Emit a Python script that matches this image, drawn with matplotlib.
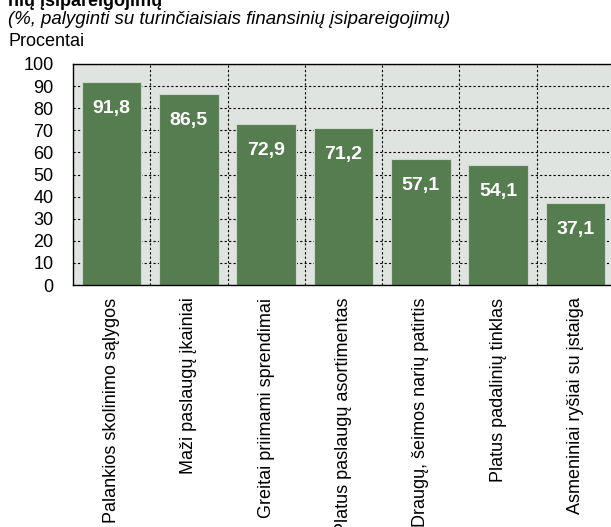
import matplotlib
matplotlib.use('Agg')
import matplotlib.pyplot as plt
import numpy as np

plt.rcParams['font.family'] = ['Liberation Sans', 'DejaVu Sans']

kategorijos = ['Palankios skolinimo sąlygos', 'Maži paslaugų įkainiai',
               'Greitai priimami sprendimai', 'Platus paslaugų asortimentas',
               'Draugų, šeimos narių patirtis', 'Platus padalinių tinklas',
               'Asmeniniai ryšiai su įstaiga']
reiksmes = [91.8, 86.5, 72.9, 71.2, 57.1, 54.1, 37.1]
y_ticks = [0, 10, 20, 30, 40, 50, 60, 70, 80, 90, 100]

W, H = 611, 527
fig = plt.figure(figsize=(W / 100, H / 100), dpi=100)
# axes in pixels: left 73, right 614, top 64, bottom 285
ax = fig.add_axes([73 / W, 1 - 285 / H, 541 / W, 221 / H])
ax.set_facecolor('#e0e4e0')

x = np.arange(len(reiksmes))
ax.bar(x, reiksmes, width=0.77, color='#567d4f', edgecolor='#cfd8cf',
       linewidth=0.8, zorder=3)

for xi, v in zip(x, reiksmes):
    ax.text(xi, v - 12, f'{v:.1f}'.replace('.', ','), ha='center', va='center',
            color='white', fontsize=14, fontweight='bold', zorder=4)

ax.set_xlim(-0.5, len(reiksmes) - 0.5)
ax.set_ylim(0, 100)
ax.set_yticks(y_ticks)
ax.set_yticklabels([str(t) for t in y_ticks], fontsize=13)
ax.tick_params(axis='y', length=0, pad=14)
ax.set_xticks(x)
ax.set_xticklabels(kategorijos, rotation=90, fontsize=13)
ax.tick_params(axis='x', length=0, pad=9)
ax.set_xticks(x[:-1] + 0.5, minor=True)
ax.tick_params(axis='x', which='minor', length=0)

ax.grid(True, axis='y', color='black', linestyle=(0, (2, 2)), linewidth=0.8, zorder=1)
ax.grid(True, axis='x', which='minor', color='black', linestyle=(0, (2, 2)),
        linewidth=0.8, zorder=1)
ax.grid(False, axis='x', which='major')
for s in ax.spines.values():
    s.set_linewidth(1.0)
    s.set_zorder(5)

fig.text(8 / W, 1 - 1 / H, 'nių įsipareigojimų', fontsize=13, fontweight='bold',
         ha='left', va='center')
fig.text(8 / W, 1 - 19 / H, '(%, palyginti su turinčiaisiais finansinių įsipareigojimų)',
         fontsize=13.4, style='italic', ha='left', va='center')
fig.text(8 / W, 1 - 41 / H, 'Procentai', fontsize=13, ha='left', va='center')

fig.savefig('out.png', dpi=100)
